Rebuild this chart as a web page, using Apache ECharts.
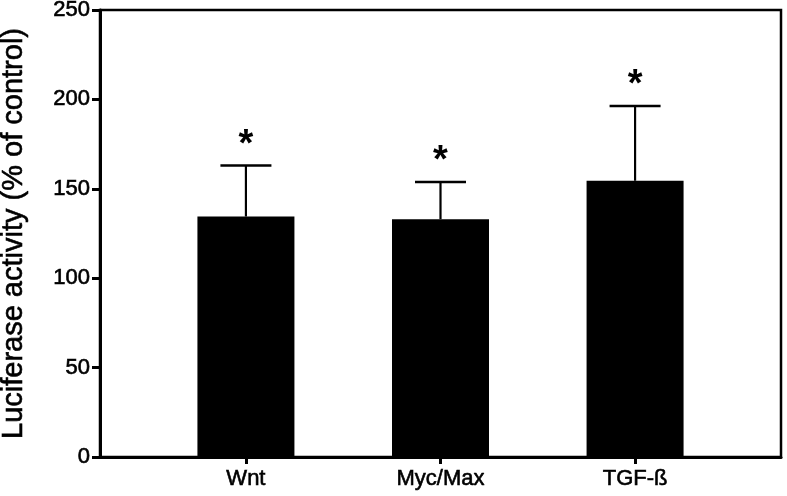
<!DOCTYPE html>
<html>
<head>
<meta charset="utf-8">
<script src="https://cdn.jsdelivr.net/npm/echarts@6/dist/echarts.min.js"></script>
<style>html,body{margin:0;padding:0;background:#fff}#c{width:787px;height:496px}</style>
</head>
<body>
<div id="c"></div>
<script>
var categories = ['Wnt', 'Myc/Max', 'TGF-ß'];
var means = [134.5, 133, 154.5];
var errors = [28.5, 20.8, 41.8];
var marks = ['*', '*', '*'];
var yTicks = [0, 50, 100, 150, 200, 250];

var FONT = '"Liberation Sans", Arial, Helvetica, sans-serif';
var positions = categories.map(function (c, i) { return i + 1; });

var chart = echarts.init(document.getElementById('c'));
chart.setOption({
  animation: false,
  backgroundColor: '#fff',
  grid: { left: 100, right: 6, top: 10, bottom: 39, show: true, borderColor: '#000', borderWidth: 2.5, containLabel: false, outerBoundsMode: 'none' },
  xAxis: {
    type: 'value', min: 0.25, max: 3.75,
    splitLine: { show: false },
    axisLine: { show: true, lineStyle: { color: '#000', width: 3 } },
    axisTick: { show: true, customValues: positions, length: 7, inside: false, lineStyle: { color: '#000', width: 3 } },
    axisLabel: {
      customValues: positions, margin: 11, color: '#000', fontFamily: FONT, fontSize: 22,
      textBorderColor: '#000', textBorderWidth: 0.6,
      formatter: function (v) { var i = Math.round(v) - 1; return categories[i] || ''; }
    }
  },
  yAxis: {
    type: 'value', min: 0, max: 250, interval: 50,
    name: 'Luciferase activity (% of control)', nameLocation: 'middle', nameGap: 72,
    nameTextStyle: { color: '#000', fontFamily: FONT, fontSize: 29, textBorderColor: '#000', textBorderWidth: 0.6 },
    splitLine: { show: false },
    axisLine: { show: true, lineStyle: { color: '#000', width: 3 } },
    axisTick: { show: true, length: 8, lineStyle: { color: '#000', width: 3 } },
    axisLabel: { color: '#000', fontFamily: FONT, fontSize: 22, margin: 10,
      textBorderColor: '#000', textBorderWidth: 0.6,
      formatter: function (v) { return yTicks.indexOf(v) >= 0 ? String(v) : ''; } }
  },
  series: [
    {
      type: 'bar', barWidth: 97, z: 2,
      itemStyle: { color: '#000' },
      data: means.map(function (m, i) { return [positions[i], m]; })
    },
    {
      type: 'custom', z: 3,
      data: means.map(function (m, i) { return [positions[i], m, m + errors[i], i]; }),
      renderItem: function (params, api) {
        var x = api.value(0), lo = api.value(1), hi = api.value(2), idx = api.value(3);
        var pLo = api.coord([x, lo]);
        var pHi = api.coord([x, hi]);
        var cap = 25.5;
        return {
          type: 'group',
          children: [
            { type: 'line', shape: { x1: pLo[0], y1: pLo[1], x2: pHi[0], y2: pHi[1] }, style: { stroke: '#000', lineWidth: 2.2 } },
            { type: 'line', shape: { x1: pHi[0] - cap, y1: pHi[1], x2: pHi[0] + cap, y2: pHi[1] }, style: { stroke: '#000', lineWidth: 2.5 } },
            { type: 'text', x: pHi[0], y: pHi[1] - 20, style: { text: marks[idx], fill: '#000', font: 'bold 38px ' + FONT, align: 'center', verticalAlign: 'middle' } }
          ]
        };
      }
    }
  ]
});
</script>
</body>
</html>
